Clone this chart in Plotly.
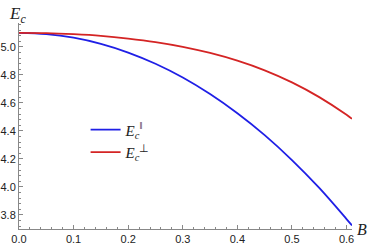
import plotly.graph_objects as go

B = [0.0, 0.05, 0.1, 0.15, 0.2, 0.25, 0.3, 0.35, 0.4, 0.45, 0.5, 0.55, 0.6, 0.61]
E_par = [5.100, 5.091, 5.065, 5.021, 4.959, 4.879, 4.781, 4.663, 4.526, 4.370, 4.192, 3.993, 3.771, 3.725]
E_perp = [5.100, 5.098, 5.090, 5.078, 5.059, 5.034, 5.000, 4.956, 4.901, 4.832, 4.746, 4.641, 4.515, 4.486]

x_ticks = [0.0, 0.1, 0.2, 0.3, 0.4, 0.5, 0.6]
y_ticks = [3.8, 4.0, 4.2, 4.4, 4.6, 4.8, 5.0]

serif = "Liberation Serif"
sans = "Liberation Sans"

fig = go.Figure()
fig.add_trace(go.Scatter(x=B, y=E_par, mode="lines", line=dict(color="#1f1fe6", width=1.8, shape="spline"),
                         name="<i>E</i><sub><i>c</i></sub><sup>‖</sup>"))
fig.add_trace(go.Scatter(x=B, y=E_perp, mode="lines", line=dict(color="#d42424", width=1.8, shape="spline"),
                         name="<i>E</i><sub><i>c</i></sub><sup>⊥</sup>"))

axis_common = dict(showgrid=False, zeroline=False, showline=True, linecolor="#888888", linewidth=1,
                   ticks="inside", ticklen=4, tickcolor="#888888", tickwidth=1, automargin=False,
                   tickfont=dict(family=sans, size=11, color="#222222"))

fig.update_layout(
    width=371, height=245,
    margin=dict(l=19, r=19, t=23, b=16),
    paper_bgcolor="white", plot_bgcolor="white",
    showlegend=True,
    legend=dict(x=0.2, y=0.561, xanchor="left", yanchor="top", bgcolor="rgba(0,0,0,0)",
                font=dict(family=serif, size=15, color="#222222"), tracegroupgap=0),
    xaxis=dict(range=[0, 0.61], tickvals=x_ticks, ticktext=[f"{v:.1f}" for v in x_ticks],
               minor=dict(dtick=0.02, tick0=0, ticks="inside", ticklen=2, tickcolor="#888888"),
               **axis_common),
    yaxis=dict(range=[3.70, 5.17], tickvals=y_ticks, ticktext=[f"{v:.1f}" for v in y_ticks],
               minor=dict(dtick=0.04, tick0=3.8, ticks="inside", ticklen=2, tickcolor="#888888"),
               **axis_common),
    annotations=[
        dict(text="<i>E</i><sub><i>c</i></sub>", xref="paper", yref="paper", x=-0.035, y=1.1,
             xanchor="left", yanchor="top", showarrow=False,
             font=dict(family=serif, size=17, color="#222222")),
        dict(text="<i>B</i>", xref="paper", yref="paper", x=1.03, y=0.0,
             xanchor="center", yanchor="middle", showarrow=False,
             font=dict(family=serif, size=16, color="#222222")),
    ],
)

fig.write_html("out.html", config={"displayModeBar": False},
               post_script="document.body.style.margin='0';document.body.style.overflow='hidden';")
